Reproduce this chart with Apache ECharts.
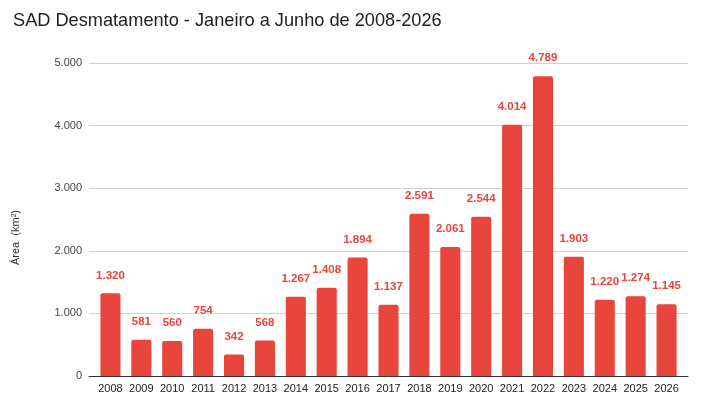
<!DOCTYPE html>
<html>
<head>
<meta charset="utf-8">
<script src="https://cdn.jsdelivr.net/npm/echarts@6/dist/echarts.min.js"></script>
<style>
  html, body { margin: 0; padding: 0; background: #fff; }
  #main { width: 720px; height: 407px; }
</style>
</head>
<body>
<div id="main"></div>
<script>
let anos = ["2008","2009","2010","2011","2012","2013","2014","2015","2016","2017","2018","2019","2020","2021","2022","2023","2024","2025","2026"]
let area = [1320,581,560,754,342,568,1267,1408,1894,1137,2591,2061,2544,4014,4789,1903,1220,1274,1145]
let yTicks = [0,1000,2000,3000,4000,5000]

// separador de milhar com ponto
function fmt(v){
    return String(v).replace(/\B(?=(\d{3})+(?!\d))/g, ".")
}

const fonte = 'Liberation Sans, Arial, sans-serif'
var myChart = echarts.init(document.getElementById('main'))
var option = {
    animation: false,
    title: {
        text: 'SAD Desmatamento - Janeiro a Junho de 2008-2026',
        left: 8,
        top: 7,
        textStyle: { fontFamily: fonte, fontSize: 18.2, fontWeight: 'normal', color: '#222' }
    },
    // grid 0: linhas de grade e eixo; grid 1: barras (com folga lateral)
    grid: [
        { left: 89, right: 32, top: 63, bottom: 31 },
        { left: 95, right: 38, top: 63, bottom: 31 }
    ],
    xAxis: [
        {
            gridIndex: 0,
            type: 'value',
            min: 0, max: 1,
            axisLabel: { show: false },
            axisTick: { show: false },
            splitLine: { show: false },
            axisLine: { show: true, onZero: false, lineStyle: { color: '#333', width: 1 } }
        },
        {
            gridIndex: 1,
            type: 'category',
            data: anos,
            axisTick: { show: false },
            axisLine: { show: false },
            axisLabel: { interval: 0, color: '#222', fontFamily: fonte, fontSize: 11, margin: 7 }
        }
    ],
    yAxis: [
        {
            gridIndex: 0,
            type: 'value',
            min: yTicks[0],
            max: yTicks[yTicks.length - 1],
            interval: 1000,
            name: 'Área  (km²)',
            nameLocation: 'middle',
            nameGap: 68,
            nameTextStyle: { color: '#333', fontFamily: fonte, fontSize: 11, padding: [0, 0, 0, -36] },
            axisLabel: { color: '#444', fontFamily: fonte, fontSize: 11, margin: 7, formatter: fmt },
            splitLine: { lineStyle: { color: '#d0d0d0' } },
            axisLine: { show: false },
            axisTick: { show: false }
        },
        {
            gridIndex: 1,
            type: 'value',
            min: yTicks[0],
            max: yTicks[yTicks.length - 1],
            interval: 1000,
            axisLabel: { show: false },
            splitLine: { show: false },
            axisLine: { show: false },
            axisTick: { show: false }
        }
    ],
    series: [
        {
            name: 'Área',
            type: 'bar',
            xAxisIndex: 1,
            yAxisIndex: 1,
            data: area,
            barCategoryGap: '35%',
            itemStyle: { color: '#e8453c', borderRadius: [2, 2, 0, 0] },
            label: {
                show: true,
                position: 'top',
                distance: 12,
                color: '#e8453c',
                fontFamily: fonte,
                fontWeight: 'bold',
                fontSize: 11.5,
                textBorderColor: '#fff',
                textBorderWidth: 2,
                formatter: p => fmt(p.value)
            }
        }
    ]
}
myChart.setOption(option)
</script>
</body>
</html>
